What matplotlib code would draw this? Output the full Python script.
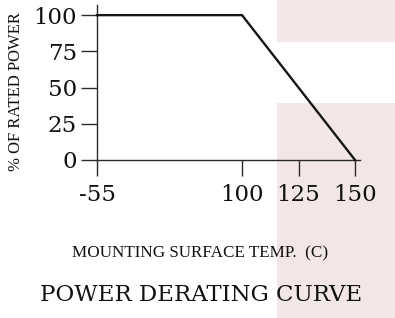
import numpy as np
import matplotlib
matplotlib.use("Agg")
import matplotlib.pyplot as plt
from matplotlib.patches import Rectangle

# Data
temps = [-55, 100, 150]
power = [100, 100, 0]
xticks = [-55, 100, 125, 150]
yticks = [0, 25, 50, 75, 100]
xlabel = "MOUNTING SURFACE TEMP.  (C)"
ylabel = "% OF RATED POWER"
title = "POWER DERATING CURVE"

# piecewise-linear (non-uniform) temperature axis as in the datasheet
_bx = np.array([-55.0, 100.0, 150.0])
_by = np.array([0.0, 145.0, 258.0])

def _fwd(x):
    x = np.asarray(x, dtype=float)
    return np.where(x <= _bx[1],
                    _by[0] + (x - _bx[0]) * (_by[1] - _by[0]) / (_bx[1] - _bx[0]),
                    _by[1] + (x - _bx[1]) * (_by[2] - _by[1]) / (_bx[2] - _bx[1]))

def _inv(y):
    y = np.asarray(y, dtype=float)
    return np.where(y <= _by[1],
                    _bx[0] + (y - _by[0]) * (_bx[1] - _bx[0]) / (_by[1] - _by[0]),
                    _bx[1] + (y - _by[1]) * (_bx[2] - _bx[1]) / (_by[2] - _by[1]))

W, H = 395, 318
fig = plt.figure(figsize=(W / 100, H / 100), dpi=100)

pink = "#f3e6e7"
fig.add_artist(Rectangle((277 / W, 1 - 42 / H), 1 - 277 / W, 42 / H,
                         transform=fig.transFigure, color=pink, lw=0, zorder=0))
fig.add_artist(Rectangle((277 / W, 0), 1 - 277 / W, 1 - 103 / H,
                         transform=fig.transFigure, color=pink, lw=0, zorder=0))

ax = fig.add_axes([97 / W, 1 - 160 / H, (360 - 97) / W, (160 - 5) / H])
ax.patch.set_visible(False)
ax.set_xscale("function", functions=(_fwd, _inv))
ax.plot(temps, power, color="#161616", lw=1.7, solid_joinstyle="miter", clip_on=False, zorder=3)
ax.set_xlim(-55, 152.2)
ax.set_ylim(0, 107)
ax.set_xticks(xticks)
ax.set_xticklabels([str(t) for t in xticks])
ax.set_yticks(yticks)
ax.set_yticklabels([str(t) for t in yticks])
ax.minorticks_off()
for s in ("top", "right"):
    ax.spines[s].set_visible(False)
for s in ("left", "bottom"):
    ax.spines[s].set_color("#2a2a2a")
    ax.spines[s].set_linewidth(1.0)
ax.tick_params(axis="both", direction="out", length=11.5, width=1.0, color="#2a2a2a",
               labelsize=16.5, labelcolor="#111111")
ax.tick_params(axis="x", pad=6)
ax.tick_params(axis="y", pad=3)
for lab in ax.get_xticklabels() + ax.get_yticklabels():
    lab.set_family("DejaVu Serif")

fig.text(200 / W, 1 - 257 / H, xlabel, ha="center", va="baseline",
         family="Liberation Serif", fontsize=12.3, color="#111111")
fig.text(16 / W, 1 - 92 / H, ylabel, ha="center", va="center", rotation=90,
         family="Liberation Serif", fontsize=12, color="#111111")
fig.text(201 / W, 1 - 301 / H, title, ha="center", va="baseline",
         family="DejaVu Serif", fontsize=16.5, color="#111111")

fig.savefig("out.png", dpi=100)
